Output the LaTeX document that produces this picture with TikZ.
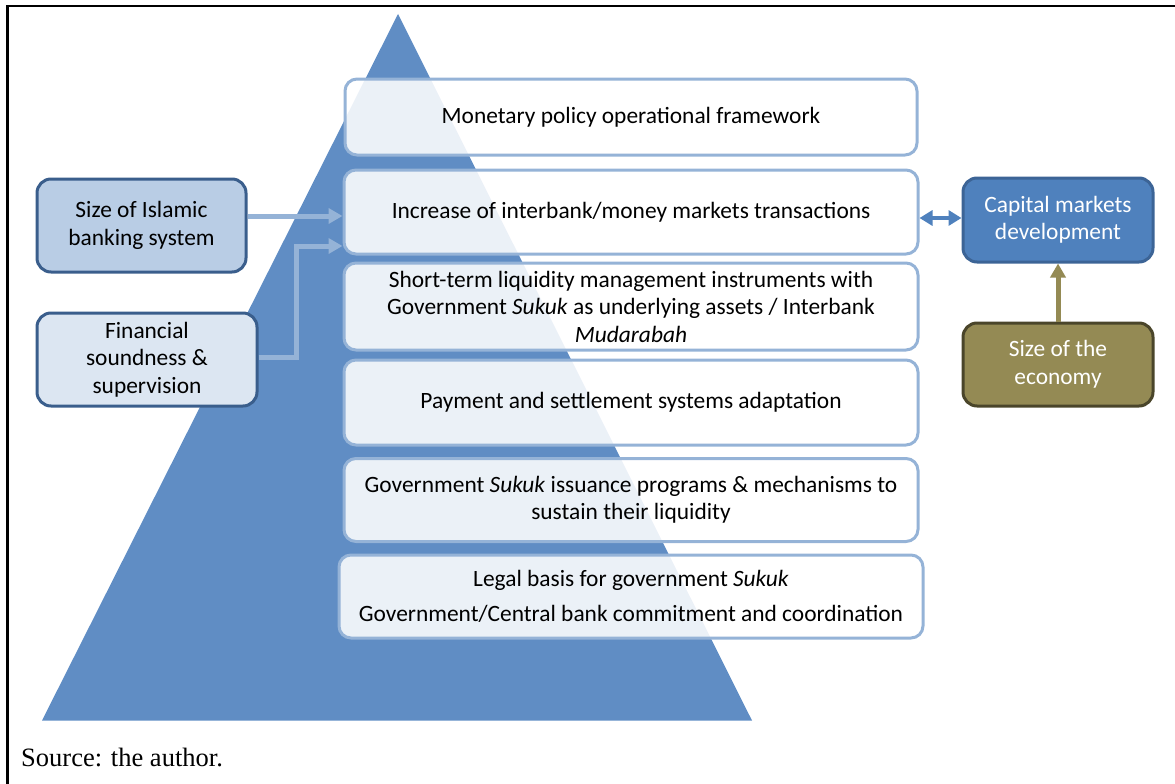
\documentclass[tikz,border=0pt]{standalone}
\usepackage{fontspec}
\setmainfont{Carlito}
\newfontfamily\timesfont{Liberation Serif}
\usetikzlibrary{arrows.meta}
\definecolor{tri}{RGB}{96,141,196}
\definecolor{lblue}{RGB}{149,179,215}
\definecolor{dblue}{RGB}{58,94,140}
\definecolor{sizefill}{RGB}{185,205,229}
\definecolor{finfill}{RGB}{220,230,242}
\definecolor{capfill}{RGB}{79,129,189}
\definecolor{capborder}{RGB}{60,100,150}
\definecolor{ecofill}{RGB}{148,138,84}
\definecolor{ecoborder}{RGB}{74,69,42}
\tikzset{
  txt/.style={font=\fontsize{23.4}{27.5}\selectfont, align=center, inner sep=0pt},
  wbox/.style={txt, draw=lblue, line width=3pt, rounded corners=12pt, fill=white, fill opacity=0.88, text opacity=1, draw opacity=1},
  lbox/.style={txt, draw=dblue, line width=3pt, rounded corners=14pt},
  rbox/.style={txt, line width=3pt, rounded corners=14pt, text=white},
  larrow/.style={draw=lblue, line width=5pt, -{Triangle[length=14pt,width=15pt]}},
}
\begin{document}
\begin{tikzpicture}[x=1pt,y=-1pt]
\useasboundingbox (0,0) rectangle (1175,784);
% frame
\draw[line width=2.5pt] (7.5,784) -- (7.5,6) -- (1175,6);
% pyramid
\fill[tri] (398,14) -- (752,720.5) -- (42,720.5) -- cycle;
% pyramid boxes
\node[wbox, minimum width=572, minimum height=76] (m1) at (631,117) {Monetary policy operational framework};
\node[wbox, minimum width=574, minimum height=84] (m2) at (631,212) {Increase of interbank/money markets transactions};
\node[wbox, minimum width=574, minimum height=87] (m3) at (631,306.5) {Short-term liquidity management instruments with\\Government \textit{Sukuk} as underlying assets / Interbank\\\textit{Mudarabah}};
\node[wbox, minimum width=574, minimum height=85] (m4) at (631,402.5) {Payment and settlement systems adaptation};
\node[wbox, minimum width=574, minimum height=83] (m5) at (631,500) {Government \textit{Sukuk} issuance programs \& mechanisms to\\sustain their liquidity};
\node[wbox, minimum width=584, minimum height=83] (m6) at (631,596.5) {Legal basis for government \textit{Sukuk}\\[7pt]Government/Central bank commitment and coordination};
% left boxes
\node[lbox, fill=sizefill, minimum width=209, minimum height=93] (size) at (141.5,225.5) {Size of Islamic\\[1pt]banking system};
\node[lbox, fill=finfill, minimum width=220, minimum height=93] (fin) at (147,359.5) {Financial\\soundness \&\\supervision};
% right boxes
\node[rbox, draw=capborder, fill=capfill, minimum width=190, minimum height=84] (cap) at (1058,220) {Capital markets\\development};
\node[rbox, draw=ecoborder, fill=ecofill, minimum width=190, minimum height=83] (eco) at (1058,364.5) {Size of the\\economy};
% arrows
\draw[larrow] (size.east |- 0,216) -- (m2.west |- 0,216);
\draw[larrow] (fin.east |- 0,357) -- (296,357) -- (296,246) -- (m2.west |- 0,246);
\draw[draw=capfill, line width=4.5pt, {Triangle[length=13pt,width=15pt]}-{Triangle[length=13pt,width=15pt]}] (m2.east |- 0,218) -- (cap.west |- 0,218);
\draw[draw=ecofill, line width=5pt, -{Triangle[length=14pt,width=15pt]}] (eco.north) -- (cap.south);
% source
\node[anchor=base west, inner sep=0pt, font=\timesfont\fontsize{26.5}{30}\selectfont] (src) at (21,766) {Source: the author.};
\end{tikzpicture}
\end{document}
